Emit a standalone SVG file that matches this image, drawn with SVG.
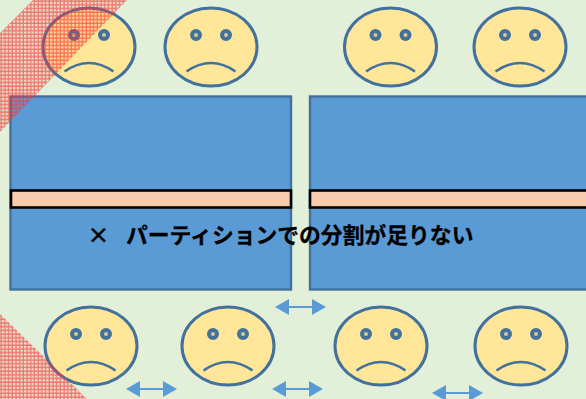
<svg xmlns="http://www.w3.org/2000/svg" width="586" height="399" viewBox="0 0 586 399">
<style>
.face{fill:#ffe699;stroke:#41719c;stroke-width:3}
.eye{fill:#d8c98c;stroke:#41719c;stroke-width:4}
.mouth{fill:none;stroke:#41719c;stroke-width:2.6}
.block{fill:#5b9bd5;stroke:#41719c;stroke-width:2.4}
.band{fill:#f8cbad;stroke:#000;stroke-width:2.6}
.arrow{stroke:#5b9bd5;stroke-width:2;fill:none;marker-start:url(#h1);marker-end:url(#h2)}
.hatch{fill:url(#grid)}
text{font-family:"Noto Sans CJK JP","Noto Sans",sans-serif;font-weight:700;font-size:21.8px;fill:#000;stroke:#000;stroke-width:.3}
</style>
<defs>
<pattern id="grid" width="3.7" height="3.7" patternUnits="userSpaceOnUse">
<rect width="3.7" height="3.7" fill="#ff6060" fill-opacity="0.1"/>
<path d="M0 1.2H3.7M1.2 0V3.7" stroke="#f53030" stroke-opacity="0.62" stroke-width="1.3" fill="none"/>
</pattern>
<marker id="h2" markerUnits="userSpaceOnUse" markerWidth="15" markerHeight="16" refX="1" refY="8" orient="auto" overflow="visible"><path d="M0 0L14 8L0 16Z" fill="#5b9bd5"/></marker>
<marker id="h1" markerUnits="userSpaceOnUse" markerWidth="15" markerHeight="16" refX="14" refY="8" orient="auto" overflow="visible"><path d="M14 0L0 8L14 16Z" fill="#5b9bd5"/></marker>
<g id="sad"><ellipse class="face" cx="0" cy="0" rx="46" ry="39"/><circle class="eye" cx="-15" cy="-12" r="4"/><circle class="eye" cx="15" cy="-12" r="4"/><path class="mouth" d="M-24.5 24.5Q0 7.5 24.5 24.5"/></g>
</defs>
<rect width="586" height="399" fill="#e2efd9"/>
<g id="block-left"><rect class="block" x="10.5" y="96.5" width="280.5" height="193"/><rect class="band" x="11" y="190.5" width="280" height="17"/></g>
<g id="block-right"><rect class="block" x="310" y="96.5" width="280" height="193"/><rect class="band" x="310" y="190.5" width="280" height="17"/></g>
<g id="face-1"><use href="#sad" x="89" y="47"/></g>
<g id="face-2"><use href="#sad" x="211" y="47"/></g>
<g id="face-3"><use href="#sad" x="390.5" y="47"/></g>
<g id="face-4"><use href="#sad" x="520" y="47"/></g>
<g id="face-5"><use href="#sad" x="91" y="346"/></g>
<g id="face-6"><use href="#sad" x="228" y="346"/></g>
<g id="face-7"><use href="#sad" x="381" y="346"/></g>
<g id="face-8"><use href="#sad" x="521" y="346"/></g>
<g id="connectors">
<line class="arrow" x1="289" y1="307" x2="313" y2="307"/>
<line class="arrow" x1="140" y1="389" x2="164" y2="389"/>
<line class="arrow" x1="286" y1="389" x2="310" y2="389"/>
<line class="arrow" x1="446" y1="393" x2="470" y2="393"/>
</g>
<polygon class="hatch" points="33,0 127,0 0,132 0,33"/>
<polygon class="hatch" points="0,314 87,399 0,399"/>
<g id="caption"><text y="243"><tspan x="87.5">×</tspan><tspan x="126">パーティションでの分割が足りない</tspan></text></g>
</svg>
